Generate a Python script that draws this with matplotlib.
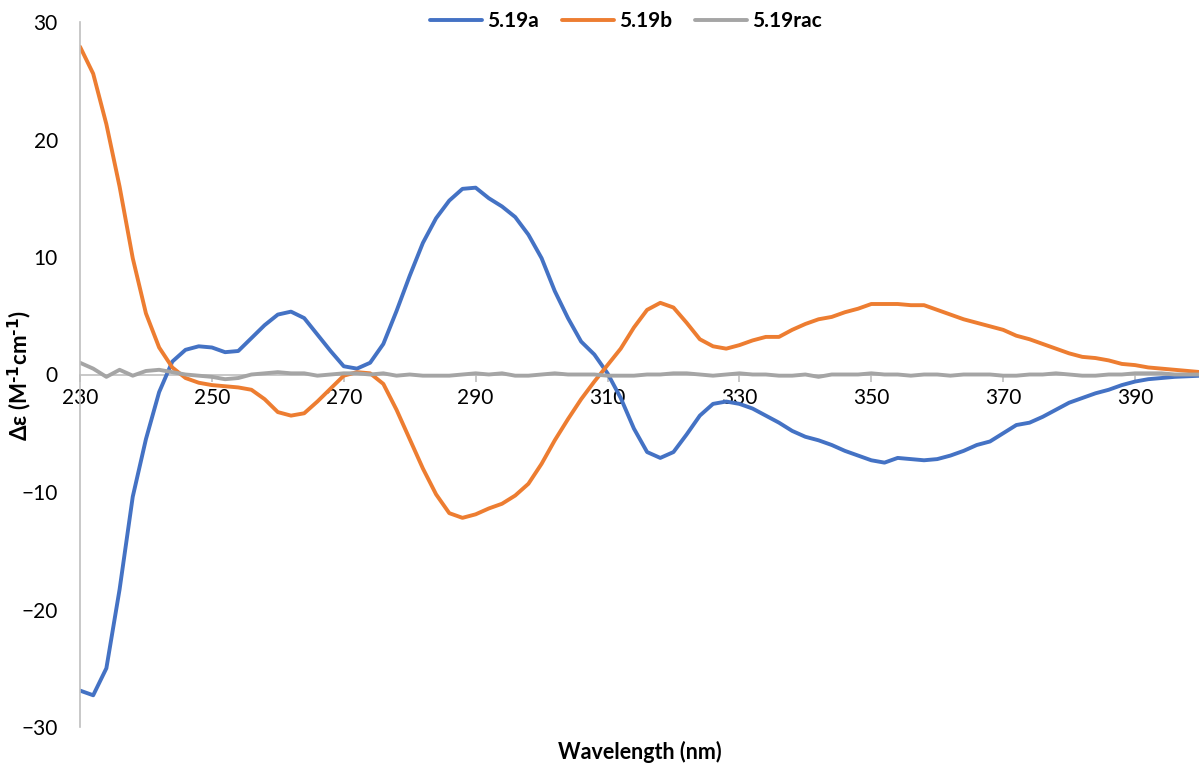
import numpy as np
import matplotlib
matplotlib.use("Agg")
import matplotlib.pyplot as plt

plt.rcParams['font.family'] = ['Lato', 'DejaVu Sans']

# CD spectra at 2 nm steps (230-400 nm)
wavelength = np.arange(230, 401, 2)

de_a = [-26.9, -27.3, -25.0, -18.3, -10.4, -5.5, -1.5, 1.1, 2.1, 2.4,
        2.3, 1.9, 2.0, 3.1, 4.2, 5.1, 5.35, 4.8, 3.4, 2.0,
        0.7, 0.5, 1.0, 2.6, 5.4, 8.4, 11.2, 13.3, 14.8, 15.8,
        15.9, 15.0, 14.3, 13.4, 11.9, 9.9, 7.1, 4.8, 2.8, 1.7,
        0.1, -2.0, -4.6, -6.6, -7.1, -6.6, -5.1, -3.5, -2.5, -2.3,
        -2.5, -2.9, -3.5, -4.1, -4.8, -5.3, -5.6, -6.0, -6.5, -6.9,
        -7.3, -7.5, -7.1, -7.2, -7.3, -7.2, -6.9, -6.5, -6.0, -5.7,
        -5.0, -4.3, -4.1, -3.6, -3.0, -2.4, -2.0, -1.6, -1.3, -0.9,
        -0.6, -0.4, -0.3, -0.2, -0.15, -0.1]

de_b = [27.9, 25.6, 21.3, 16.0, 9.9, 5.2, 2.3, 0.6, -0.3, -0.7,
        -0.9, -1.0, -1.1, -1.3, -2.1, -3.2, -3.5, -3.3, -2.3, -1.2,
        -0.1, 0.2, 0.1, -0.8, -3.0, -5.5, -8.0, -10.2, -11.8, -12.2,
        -11.9, -11.4, -11.0, -10.3, -9.3, -7.6, -5.6, -3.8, -2.1, -0.6,
        0.8, 2.2, 4.0, 5.5, 6.1, 5.7, 4.4, 3.0, 2.4, 2.2,
        2.5, 2.9, 3.2, 3.2, 3.8, 4.3, 4.7, 4.9, 5.3, 5.6,
        6.0, 6.0, 6.0, 5.9, 5.9, 5.5, 5.1, 4.7, 4.4, 4.1,
        3.8, 3.3, 3.0, 2.6, 2.2, 1.8, 1.5, 1.4, 1.2, 0.9,
        0.8, 0.6, 0.5, 0.4, 0.3, 0.2]

de_rac = [1.0, 0.5, -0.2, 0.4, -0.1, 0.3, 0.4, 0.2, 0.0, -0.1,
          -0.2, -0.4, -0.3, 0.0, 0.1, 0.2, 0.1, 0.1, -0.1, 0.0,
          0.1, 0.1, 0.0, 0.1, -0.1, 0.0, -0.1, -0.1, -0.1, 0.0,
          0.1, 0.0, 0.1, -0.1, -0.1, 0.0, 0.1, 0.0, 0.0, 0.0,
          -0.1, -0.1, -0.1, 0.0, 0.0, 0.1, 0.1, 0.0, -0.1, 0.0,
          0.1, 0.0, 0.0, -0.1, -0.1, 0.0, -0.2, 0.0, 0.0, 0.0,
          0.1, 0.0, 0.0, -0.1, 0.0, 0.0, -0.1, 0.0, 0.0, 0.0,
          -0.1, -0.1, 0.0, 0.0, 0.1, 0.0, -0.1, -0.1, 0.0, 0.0,
          0.1, 0.1, 0.1, 0.0, 0.0, 0.0]

series_labels = ['5.19a', '5.19b', '5.19rac']
series_colors = ['#4472C4', '#ED7D31', '#A5A5A5']

x_ticks = list(range(230, 391, 20))
y_ticks = list(range(-30, 31, 10))

fig = plt.figure(figsize=(11.99, 7.68), dpi=100)
ax = fig.add_axes([80 / 1199, 41 / 768, 1121 / 1199, 705 / 768])

for vals, lab, col in zip([de_a, de_b, de_rac], series_labels, series_colors):
    ax.plot(wavelength, vals, color=col, lw=2.8, label=lab,
            solid_joinstyle='round', solid_capstyle='round')

ax.set_xlim(230, 400)
ax.set_ylim(-30, 30)

# axis lines: y axis at 230 nm, x axis through zero
for s in ['top', 'right']:
    ax.spines[s].set_visible(False)
ax.spines['bottom'].set_position(('data', 0))
ax.spines['bottom'].set_color('#BFBFBF')
ax.spines['left'].set_color('#BFBFBF')
ax.spines['bottom'].set_linewidth(1.2)
ax.spines['left'].set_linewidth(1.2)
ax.spines['bottom'].set_zorder(0)

ax.set_xticks(x_ticks)
ax.set_yticks(y_ticks)
ax.tick_params(axis='x', direction='out', length=5, width=1.2,
               color='#BFBFBF', labelsize=15, pad=5)
ax.tick_params(axis='y', length=0, labelsize=15, pad=16)

fig.text(640 / 1199, 1 - 752 / 768, 'Wavelength (nm)', ha='center',
         va='center', fontsize=15.5, fontweight='bold')
# hyphen (U+2010) instead of '-' so mathtext keeps a short dash
fig.text(20 / 1199, 1 - 375 / 768,
         'Δε (M$^{\\mathbf{\u20101}}$cm$^{\\mathbf{\u20101}}$)', ha='center',
         va='center', rotation=90, fontsize=16, fontweight='bold')

fig.legend(loc='center', bbox_to_anchor=(0.522, 1 - 21 / 768), ncol=3,
           frameon=False, prop={'size': 15, 'weight': 'bold'},
           handlelength=2.5, handletextpad=0.25, columnspacing=1.1)

fig.savefig('out.png', dpi=100)
